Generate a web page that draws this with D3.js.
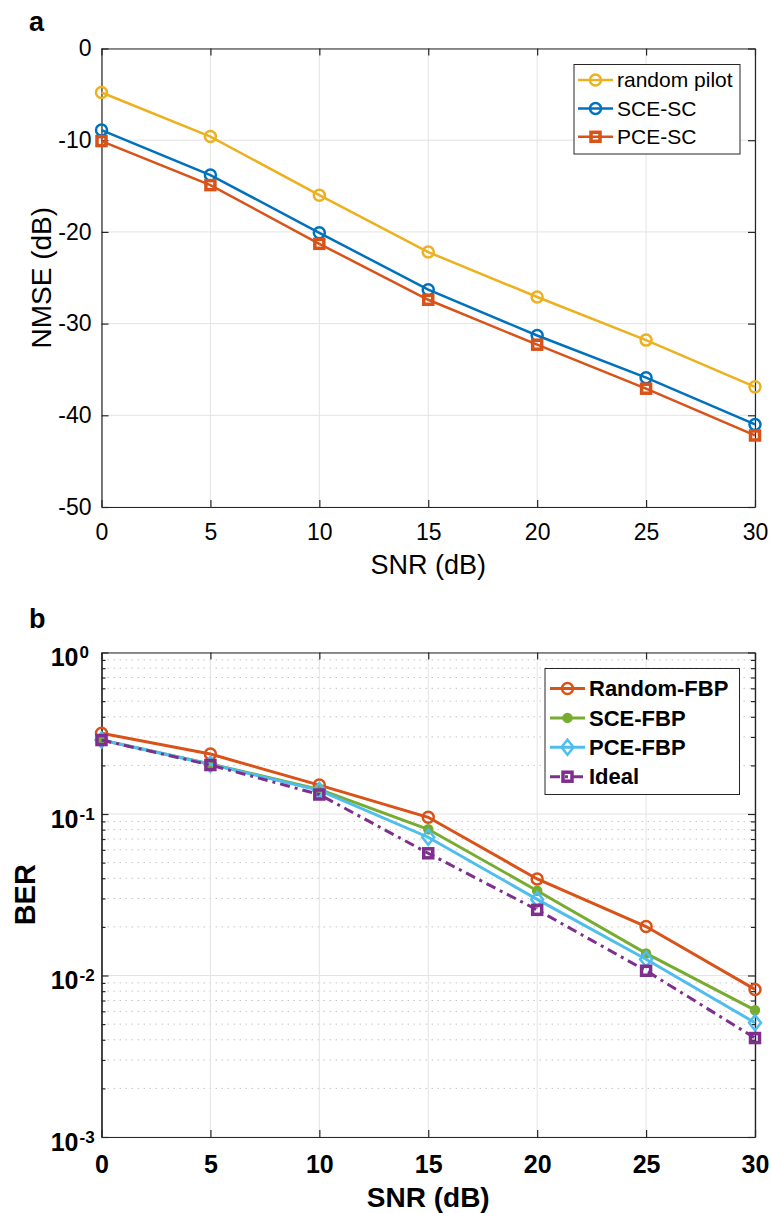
<!DOCTYPE html>
<html>
<head>
<meta charset="utf-8">
<script src="https://cdn.jsdelivr.net/npm/d3@7/dist/d3.min.js"></script>
<style>
  body { margin: 0; background: #fff; }
  svg { display: block; font-family: "Liberation Sans", Arial, Helvetica, sans-serif; }
</style>
</head>
<body>
<div id="container"></div>
<script>
/* Data */
var snr = [0, 5, 10, 15, 20, 25, 30];
var snrTicks = [0, 5, 10, 15, 20, 25, 30];
var nmseTicks = [-50, -40, -30, -20, -10, 0];

var nmseRandom = [-4.8, -9.6, -16.0, -22.2, -27.1, -31.8, -36.9];
var nmseSCE = [-8.9, -13.8, -20.1, -26.3, -31.3, -35.9, -41.0];
var nmsePCE = [-10.1, -14.9, -21.3, -27.4, -32.3, -37.1, -42.2];

var berRandom = [0.316, 0.235, 0.151, 0.0954, 0.0396, 0.0201, 0.0082];
var berSCE = [0.287, 0.204, 0.142, 0.0804, 0.0335, 0.0137, 0.0061];
var berPCE = [0.287, 0.203, 0.140, 0.0718, 0.0296, 0.0126, 0.0051];
var berIdeal = [0.287, 0.201, 0.132, 0.0571, 0.0255, 0.0107, 0.0041];
var berDecades = [-3, -2, -1, 0];

var w = 771, h = 1213;
var axisColor = '#262626';

var svg = d3.select('#container').append('svg')
	.attr('width', w)
	.attr('height', h);

function pairs(ys) {
	return snr.map((x, i) => ({x: x, y: ys[i]}));
}

/* marker drawing */
function drawMarkers(g, data, xs, ys, shape, color) {
	var sel = g.append('g').selectAll('path').data(data).enter();
	if (shape === 'circle') {
		sel.append('circle')
			.attr('cx', d => xs(d.x)).attr('cy', d => ys(d.y)).attr('r', 5.5)
			.attr('fill', 'none').attr('stroke', color).attr('stroke-width', 2.5);
	} else if (shape === 'dot') {
		sel.append('circle')
			.attr('cx', d => xs(d.x)).attr('cy', d => ys(d.y)).attr('r', 4.5)
			.attr('fill', color).attr('stroke', color).attr('stroke-width', 1.5);
	} else if (shape === 'square') {
		sel.append('rect')
			.attr('x', d => xs(d.x) - 4.5).attr('y', d => ys(d.y) - 4.5)
			.attr('width', 9).attr('height', 9)
			.attr('fill', 'none').attr('stroke', color).attr('stroke-width', 3.5);
	} else if (shape === 'diamond') {
		sel.append('path')
			.attr('d', d => {
				var cx = xs(d.x), cy = ys(d.y);
				return 'M' + cx + ',' + (cy - 7.5) + 'L' + (cx + 6) + ',' + cy + 'L' + cx + ',' + (cy + 7.5) + 'L' + (cx - 6) + ',' + cy + 'Z';
			})
			.attr('fill', 'none').attr('stroke', color).attr('stroke-width', 2.5);
	}
}

function legendEntry(g, x0, y0, s, fontSize, weight) {
	var lg = g.append('g');
	lg.append('line')
		.attr('x1', x0).attr('x2', x0 + 35).attr('y1', y0).attr('y2', y0)
		.attr('stroke', s.color).attr('stroke-width', s.width)
		.attr('stroke-dasharray', s.dash || null);
	var xs = d3.scaleLinear().domain([0, 1]).range([x0 + 17.5, x0 + 17.5]);
	var ys = d3.scaleLinear().domain([0, 1]).range([y0, y0]);
	drawMarkers(lg, [{x: 0, y: 0}], xs, ys, s.shape, s.color);
	lg.append('text')
		.attr('x', x0 + 39).attr('y', y0).attr('dy', '0.35em')
		.attr('font-size', fontSize).attr('font-weight', weight)
		.attr('fill', '#000')
		.text(s.name);
}

// plain hyphen labels like the original, not d3's unicode minus
var plainFmt = d => String(d);

/* ---------- Panel a ---------- */
var xA = d3.scaleLinear().domain([0, 30]).range([101.5, 755]),
	yA = d3.scaleLinear().domain([-50, 0]).range([507, 48.5]);

var gA = svg.append('g');

// grid
gA.append('g').selectAll('line').data(snrTicks).enter().append('line')
	.attr('x1', d => xA(d)).attr('x2', d => xA(d))
	.attr('y1', yA(-50)).attr('y2', yA(0))
	.attr('stroke', '#e3e3e3').attr('stroke-width', 1);
gA.append('g').selectAll('line').data(nmseTicks).enter().append('line')
	.attr('x1', xA(0)).attr('x2', xA(30))
	.attr('y1', d => yA(d)).attr('y2', d => yA(d))
	.attr('stroke', '#e3e3e3').attr('stroke-width', 1);

// axes
function styleAxis(sel, size, weight) {
	sel.attr('font-size', size).attr('font-family', null).attr('font-weight', weight);
	sel.selectAll('path, line').attr('stroke', axisColor).attr('stroke-width', 1.2);
	sel.selectAll('text').attr('fill', '#000');
}

gA.append('g').attr('transform', 'translate(0,' + yA(-50) + ')')
	.call(d3.axisBottom(xA).tickValues(snrTicks).tickFormat(plainFmt).tickSizeInner(-7).tickSizeOuter(0).tickPadding(17))
	.call(styleAxis, 23, 'normal');
gA.append('g').attr('transform', 'translate(0,' + yA(0) + ')')
	.call(d3.axisTop(xA).tickValues(snrTicks).tickSizeInner(-7).tickSizeOuter(0).tickFormat(''))
	.call(styleAxis, 23, 'normal');
gA.append('g').attr('transform', 'translate(' + xA(0) + ',0)')
	.call(d3.axisLeft(yA).tickValues(nmseTicks).tickFormat(plainFmt).tickSizeInner(-7).tickSizeOuter(0).tickPadding(10))
	.call(styleAxis, 23, 'normal');
gA.append('g').attr('transform', 'translate(' + xA(30) + ',0)')
	.call(d3.axisRight(yA).tickValues(nmseTicks).tickSizeInner(-7).tickSizeOuter(0).tickFormat(''))
	.call(styleAxis, 23, 'normal');

var seriesA = [
	{name: 'random pilot', values: nmseRandom, color: '#EDB120', shape: 'circle', width: 2.5},
	{name: 'SCE-SC', values: nmseSCE, color: '#0072BD', shape: 'circle', width: 2.5},
	{name: 'PCE-SC', values: nmsePCE, color: '#D95319', shape: 'square', width: 2.5}
];

var lineA = d3.line().x(d => xA(d.x)).y(d => yA(d.y));
seriesA.forEach(function(s) {
	var data = pairs(s.values);
	gA.append('path')
		.attr('d', lineA(data))
		.attr('fill', 'none').attr('stroke', s.color).attr('stroke-width', s.width);
	drawMarkers(gA, data, xA, yA, s.shape, s.color);
});

// labels
gA.append('text')
	.attr('x', (xA(0) + xA(30)) / 2).attr('y', 574)
	.attr('text-anchor', 'middle').attr('font-size', 27)
	.text('SNR (dB)');
gA.append('text')
	.attr('transform', 'translate(51,' + (yA(-50) + yA(0)) / 2 + ') rotate(-90)')
	.attr('text-anchor', 'middle').attr('font-size', 28)
	.text('NMSE (dB)');
gA.append('text')
	.attr('x', 29).attr('y', 31)
	.attr('font-size', 27).attr('font-weight', 'bold')
	.text('a');

// legend a
var legA = gA.append('g');
legA.append('rect')
	.attr('x', 574).attr('y', 64.5).attr('width', 166).attr('height', 89.5)
	.attr('fill', '#fff').attr('stroke', axisColor).attr('stroke-width', 1);
seriesA.forEach(function(s, i) {
	legendEntry(legA, 578, 80 + i * 28.4, s, 21, 'normal');
});

/* ---------- Panel b ---------- */
var xB = d3.scaleLinear().domain([0, 30]).range([101.5, 755]),
	yB = d3.scaleLog().domain([1e-3, 1]).range([1137, 652.5]);

var gB = svg.append('g');

var minorVals = [];
berDecades.slice(0, 3).forEach(function(e) {
	for (var k = 2; k <= 9; k++) minorVals.push(k * Math.pow(10, e));
});
var majorVals = berDecades.map(e => Math.pow(10, e));

// grid
gB.append('g').selectAll('line').data(minorVals).enter().append('line')
	.attr('x1', xB(0)).attr('x2', xB(30))
	.attr('y1', d => yB(d)).attr('y2', d => yB(d))
	.attr('stroke', '#c4c4c4').attr('stroke-width', 1).attr('stroke-dasharray', '1.5,4.5');
gB.append('g').selectAll('line').data(snrTicks).enter().append('line')
	.attr('x1', d => xB(d)).attr('x2', d => xB(d))
	.attr('y1', yB(1e-3)).attr('y2', yB(1))
	.attr('stroke', '#e3e3e3').attr('stroke-width', 1);
gB.append('g').selectAll('line').data(majorVals).enter().append('line')
	.attr('x1', xB(0)).attr('x2', xB(30))
	.attr('y1', d => yB(d)).attr('y2', d => yB(d))
	.attr('stroke', '#e3e3e3').attr('stroke-width', 1);

// axes
gB.append('g').attr('transform', 'translate(0,' + yB(1e-3) + ')')
	.call(d3.axisBottom(xB).tickValues(snrTicks).tickFormat(plainFmt).tickSizeInner(-7).tickSizeOuter(0).tickPadding(18))
	.call(styleAxis, 25, 'bold');
gB.append('g').attr('transform', 'translate(0,' + yB(1) + ')')
	.call(d3.axisTop(xB).tickValues(snrTicks).tickSizeInner(-7).tickSizeOuter(0).tickFormat(''))
	.call(styleAxis, 25, 'bold');

var leftB = gB.append('g').attr('transform', 'translate(' + xB(0) + ',0)');
leftB.call(d3.axisLeft(yB).tickValues(majorVals).tickSizeInner(-7).tickSizeOuter(0).tickPadding(4).tickFormat(''))
	.call(styleAxis, 25, 'bold');
leftB.append('g').call(d3.axisLeft(yB).tickValues(minorVals).tickSizeInner(-4).tickSizeOuter(0).tickFormat(''))
	.call(styleAxis, 25, 'bold');

// 10^n labels: base "10" right-aligned, exponent after it
var majTicks = leftB.selectAll('.tick').filter(d => majorVals.indexOf(d) >= 0);
majTicks.append('text')
	.attr('x', -23).attr('y', 13)
	.attr('text-anchor', 'end').attr('fill', '#000')
	.text('10');
majTicks.append('text')
	.attr('x', -22).attr('y', 5)
	.attr('text-anchor', 'start').attr('fill', '#000')
	.attr('font-size', 17)
	.text(d => plainFmt(Math.round(Math.log10(d))));

var rightB = gB.append('g').attr('transform', 'translate(' + xB(30) + ',0)');
rightB.call(d3.axisRight(yB).tickValues(majorVals).tickSizeInner(-7).tickSizeOuter(0).tickFormat(''))
	.call(styleAxis, 25, 'bold');
rightB.append('g').call(d3.axisRight(yB).tickValues(minorVals).tickSizeInner(-4).tickSizeOuter(0).tickFormat(''))
	.call(styleAxis, 25, 'bold');

var seriesB = [
	{name: 'Random-FBP', values: berRandom, color: '#D95319', shape: 'circle', width: 3},
	{name: 'SCE-FBP', values: berSCE, color: '#77AC30', shape: 'dot', width: 3},
	{name: 'PCE-FBP', values: berPCE, color: '#4DBEEE', shape: 'diamond', width: 3},
	{name: 'Ideal', values: berIdeal, color: '#7E2F8E', shape: 'square', width: 3, dash: '10,5,3,5'}
];

var lineB = d3.line().x(d => xB(d.x)).y(d => yB(d.y));
seriesB.forEach(function(s) {
	var data = pairs(s.values);
	gB.append('path')
		.attr('d', lineB(data))
		.attr('fill', 'none').attr('stroke', s.color).attr('stroke-width', s.width)
		.attr('stroke-dasharray', s.dash || null);
	drawMarkers(gB, data, xB, yB, s.shape, s.color);
});

gB.append('text')
	.attr('x', (xB(0) + xB(30)) / 2).attr('y', 1207)
	.attr('text-anchor', 'middle').attr('font-size', 28).attr('font-weight', 'bold')
	.text('SNR (dB)');
gB.append('text')
	.attr('transform', 'translate(35,' + (yB(1e-3) + yB(1)) / 2 + ') rotate(-90)')
	.attr('text-anchor', 'middle').attr('font-size', 29).attr('font-weight', 'bold')
	.text('BER');
gB.append('text')
	.attr('x', 29).attr('y', 628)
	.attr('font-size', 27).attr('font-weight', 'bold')
	.text('b');

// legend b
var legB = gB.append('g');
legB.append('rect')
	.attr('x', 545).attr('y', 668.5).attr('width', 194.5).attr('height', 126)
	.attr('fill', '#fff').attr('stroke', axisColor).attr('stroke-width', 1);
seriesB.forEach(function(s, i) {
	legendEntry(legB, 550, 688.5 + i * 29.4, s, 22, 'bold');
});
</script>
</body>
</html>
